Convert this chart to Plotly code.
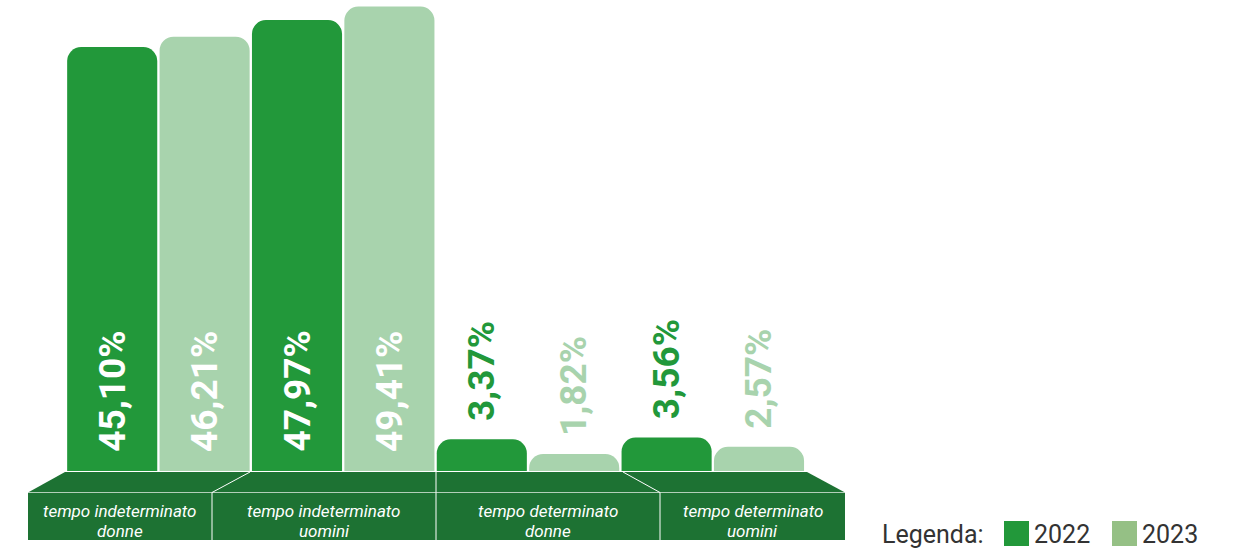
import plotly.graph_objects as go

# ---------------- data ----------------
categories = ["tempo indeterminato donne", "tempo indeterminato uomini",
              "tempo determinato donne", "tempo determinato uomini"]
cat_line1 = ["tempo indeterminato", "tempo indeterminato",
             "tempo determinato", "tempo determinato"]
cat_line2 = ["donne", "uomini", "donne", "uomini"]
years = ["2022", "2023"]
values_2022 = [45.10, 47.97, 3.37, 3.56]
values_2023 = [46.21, 49.41, 1.82, 2.57]

# ---------------- style ----------------
W, H = 1233, 548
C2022 = "#22983a"
C2023 = "#a8d3ad"
C2023_LEG = "#95c085"
PLAT = "#1d7233"
SLOT_PX = 92.4          # pixel width of one bar slot
FIRST_CENTER_PX = 112.2  # pixel x of first bar centre
BASE_PX = 471            # pixel y of baseline
PX_PER_UNIT = 9.4

x_range = [-FIRST_CENTER_PX / SLOT_PX, (W - FIRST_CENTER_PX) / SLOT_PX]
y_range = [-(H - BASE_PX) / PX_PER_UNIT, BASE_PX / PX_PER_UNIT]


def fx(px):
    return px / W


def fy(py):
    return 1 - py / H


def fmt(v):
    return f"{v:.2f}%".replace(".", ",")


x2022 = [2 * i for i in range(len(categories))]
x2023 = [2 * i + 1 for i in range(len(categories))]

fig = go.Figure()
fig.add_trace(go.Bar(x=x2022, y=values_2022, name=years[0], width=0.975,
                     marker=dict(color=C2022, line=dict(width=0)),
                     hovertext=categories))
fig.add_trace(go.Bar(x=x2023, y=values_2023, name=years[1], width=0.975,
                     marker=dict(color=C2023, line=dict(width=0)),
                     hovertext=categories))

annotations = []
for xs, vals, col in [(x2022, values_2022, C2022), (x2023, values_2023, C2023)]:
    for x, v in zip(xs, vals):
        inside = v > 10
        annotations.append(dict(
            x=x, y=0 if inside else v, xref="x", yref="y",
            text=fmt(v), showarrow=False, textangle=-90,
            xanchor="center", yanchor="bottom",
            yshift=17 if inside else 16,
            font=dict(family="Roboto", size=37, weight="bold",
                      color="white" if inside else col),
        ))

# ---------------- platform ----------------
TOP_Y, FRONT_Y, BOT_Y = 472, 492.5, 540
shapes = []
# top face
shapes.append(dict(type="path", xref="paper", yref="paper",
                   path=f"M {fx(65)},{fy(TOP_Y)} L {fx(807)},{fy(TOP_Y)} "
                        f"L {fx(845)},{fy(FRONT_Y)} L {fx(28)},{fy(FRONT_Y)} Z",
                   fillcolor=PLAT, line=dict(width=0), layer="above"))
# front face
shapes.append(dict(type="rect", xref="paper", yref="paper",
                   x0=fx(28), x1=fx(845), y0=fy(BOT_Y), y1=fy(FRONT_Y),
                   fillcolor=PLAT, line=dict(width=0), layer="above"))
# edge between faces
shapes.append(dict(type="line", xref="paper", yref="paper",
                   x0=fx(28), x1=fx(845), y0=fy(FRONT_Y), y1=fy(FRONT_Y),
                   line=dict(color="rgba(255,255,255,0.55)", width=1), layer="above"))
# dividers (front verticals + top diagonals)
front_div = [212, 436, 660]
top_div = [250, 436, 623]
for fdx, tdx in zip(front_div, top_div):
    shapes.append(dict(type="line", xref="paper", yref="paper",
                       x0=fx(fdx), x1=fx(fdx), y0=fy(BOT_Y), y1=fy(FRONT_Y),
                       line=dict(color="white", width=1), layer="above"))
    shapes.append(dict(type="line", xref="paper", yref="paper",
                       x0=fx(tdx), x1=fx(fdx), y0=fy(TOP_Y), y1=fy(FRONT_Y),
                       line=dict(color="white", width=1), layer="above"))

sections = [28] + front_div + [845]
for i in range(len(categories)):
    cx = (sections[i] + sections[i + 1]) / 2
    annotations.append(dict(x=fx(cx), y=fy(510.5), xref="paper", yref="paper",
                            text=f"<i>{cat_line1[i]}</i>", showarrow=False,
                            xanchor="center", yanchor="middle",
                            font=dict(family="Roboto", size=17, color="white")))
    annotations.append(dict(x=fx(cx), y=fy(530.5), xref="paper", yref="paper",
                            text=f"<i>{cat_line2[i]}</i>", showarrow=False,
                            xanchor="center", yanchor="middle",
                            font=dict(family="Roboto", size=17, color="white")))

# ---------------- legend ----------------
annotations.append(dict(x=fx(880), y=fy(534), xref="paper", yref="paper",
                        text="Legenda:", showarrow=False, xanchor="left",
                        yanchor="middle",
                        font=dict(family="Roboto", size=25, color="#333333")))
for sx, tx, col, lab in [(1004, 1032, C2022, years[0]), (1112, 1140, C2023_LEG, years[1])]:
    shapes.append(dict(type="rect", xref="paper", yref="paper",
                       x0=fx(sx), x1=fx(sx + 25), y0=fy(546), y1=fy(521),
                       fillcolor=col, line=dict(width=0)))
    annotations.append(dict(x=fx(tx), y=fy(534), xref="paper", yref="paper",
                            text=lab, showarrow=False, xanchor="left",
                            yanchor="middle",
                            font=dict(family="Roboto", size=25, color="#333333")))

fig.update_layout(
    width=W, height=H, margin=dict(l=0, r=0, t=0, b=0),
    paper_bgcolor="white", plot_bgcolor="white",
    barmode="overlay", barcornerradius=14, showlegend=False,
    xaxis=dict(range=x_range, visible=False, fixedrange=True),
    yaxis=dict(range=y_range, visible=False, fixedrange=True),
    shapes=shapes, annotations=annotations,
    font=dict(family="Roboto"),
)

fig.write_html("out.html", config={"displayModeBar": False},
               post_script="document.body.style.margin='0';")
